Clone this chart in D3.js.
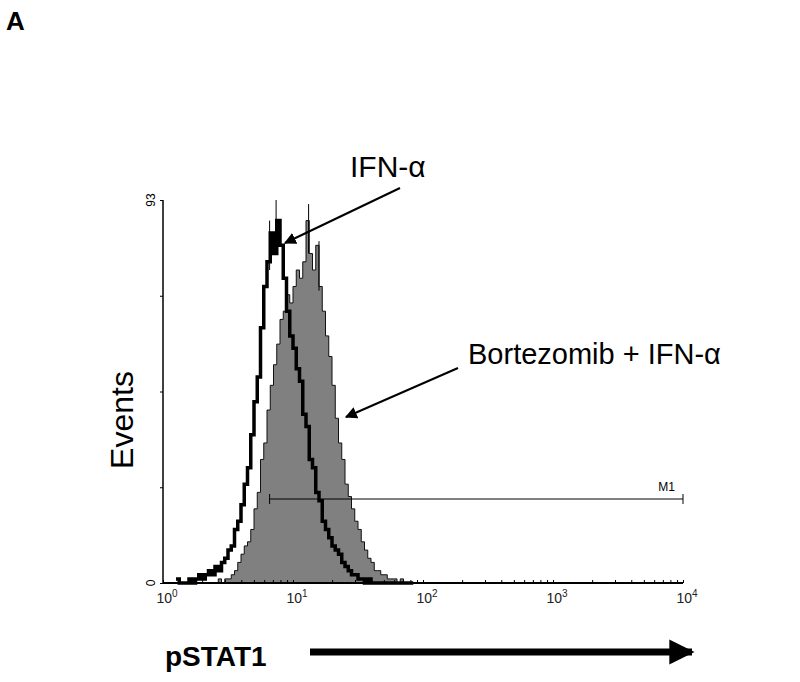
<!DOCTYPE html>
<html><head><meta charset="utf-8">
<script src="https://cdn.jsdelivr.net/npm/d3@7"></script>
<style>body{margin:0;background:#fff}text{font-family:"Liberation Sans",Arial,sans-serif}</style>
</head><body>
<svg id="c" width="800" height="682"></svg>
<script>
// log10 bin start for both series, step 0.025 decades
var binStart = 0.1, binStep = 0.025;
var ifnCounts = [1,0,0,0,1,0,1,2,1,2,3,2,4,3,5,6,8,9,13,15,19,24,28,36,44,50,62,72,78,85,80,88,82,74,66,60,
  57,52,49,41,38,30,28,22,20,15,13,11,9,8,7,5,4,3,2,2,1,1,0,1,0,0,0,0,0,0,0,0,0,0,0,0,0];
var bortCounts = [0,0,0,0,0,0,0,0,0,0,0,0,0,1,0,1,1,2,3,5,7,9,10,13,18,22,30,34,42,48,53,58,64,66,70,68,
  72,76,74,78,88,80,76,82,72,66,60,55,48,40,34,30,24,21,18,15,13,10,8,6,5,3,3,2,2,1,1,1,0,1,0,0,0];
var xTicks = [1, 10, 100, 1000, 10000];
var yTicks = [0, 93];
var spikes = [[0.87, 93], [1.12, 92], [1.2, 83], [0.82, 88]];

var svg = d3.select("#c");
var x = d3.scaleLog().domain([1, 10000]).range([163, 683]);
var y = d3.scaleLinear().domain([0, 93]).range([583, 200]);

function pts(counts) {
  var p = counts.map(function(c, i) { return [Math.pow(10, binStart + i * binStep), c]; });
  p.push([Math.pow(10, binStart + counts.length * binStep), 0]);
  return p;
}

var area = d3.area().x(function(d) { return x(d[0]); }).y0(y(0)).y1(function(d) { return y(d[1]); }).curve(d3.curveStepAfter);
var line = d3.line().x(function(d) { return x(d[0]); }).y(function(d) { return y(d[1]); }).curve(d3.curveStepAfter);

svg.append("path").attr("d", area(pts(bortCounts))).attr("fill", "#808080").attr("stroke", "#111").attr("stroke-width", 1);
svg.append("path").attr("d", line(pts(ifnCounts))).attr("fill", "none").attr("stroke", "#000").attr("stroke-width", 3.5);
svg.selectAll(".spk").data(spikes).enter().append("line")
  .attr("x1", function(d) { return x(Math.pow(10, d[0])); }).attr("x2", function(d) { return x(Math.pow(10, d[0])); })
  .attr("y1", function(d) { return y(d[1] - 12); }).attr("y2", function(d) { return y(d[1]); })
  .attr("stroke", "#000").attr("stroke-width", 1);

// axes
var minor = d3.range(1, 5).reduce(function(a, d) {
  for (var k = 1; k < 10; k++) a.push(k * Math.pow(10, d - 1)); return a; }, []).concat([10000]);
var gx = svg.append("g").attr("transform", "translate(0,583)")
  .call(d3.axisTop(x).tickValues(minor).tickSize(3).tickFormat(""));
gx.selectAll(".tick line").attr("stroke", "#000");
gx.select(".domain").attr("stroke-width", 2).attr("d", "M163,0H683");
svg.selectAll(".xl").data(xTicks).enter().append("text")
  .attr("x", function(d) { return x(d) + 4; }).attr("y", 603).attr("text-anchor", "middle")
  .attr("font-size", 14).attr("fill", "#222")
  .each(function(d) {
    var t = d3.select(this);
    t.append("tspan").text("10");
    t.append("tspan").attr("font-size", 10).attr("dy", -6).text(Math.round(Math.log10(d)));
  });

var gy = svg.append("g").attr("transform", "translate(163,0)")
  .call(d3.axisLeft(y).tickValues([0, 23.25, 46.5, 69.75, 93]).tickSize(3).tickFormat(""));
gy.select(".domain").attr("stroke-width", 1.5).attr("d", "M0,583V200");
svg.selectAll(".yl").data(yTicks).enter().append("text")
  .attr("transform", function(d) { return "translate(155," + y(d) + ") rotate(-90)"; })
  .attr("text-anchor", "middle").attr("font-size", 12).text(function(d) { return d; });

// marker M1
var m1y = 499;
svg.append("line").attr("x1", x(Math.pow(10, 0.82))).attr("x2", x(10000)).attr("y1", m1y).attr("y2", m1y).attr("stroke", "#000");
[0.82, 4].forEach(function(v) {
  svg.append("line").attr("x1", x(Math.pow(10, v))).attr("x2", x(Math.pow(10, v))).attr("y1", m1y - 5).attr("y2", m1y + 5).attr("stroke", "#000");
});
svg.append("text").attr("x", 675).attr("y", 491).attr("text-anchor", "end").attr("font-size", 12).text("M1");

// annotations
var defs = svg.append("defs");
defs.append("marker").attr("id", "ah").attr("viewBox", "0 0 10 10").attr("refX", 9).attr("refY", 5)
  .attr("markerWidth", 6).attr("markerHeight", 6).attr("orient", "auto")
  .append("path").attr("d", "M0,0L10,5L0,10z").attr("fill", "#000");
defs.append("marker").attr("id", "ah2").attr("viewBox", "0 0 10 10").attr("refX", 9).attr("refY", 5)
  .attr("markerWidth", 3.6).attr("markerHeight", 3.6).attr("orient", "auto")
  .append("path").attr("d", "M0,0L10,5L0,10z").attr("fill", "#000");

svg.append("text").attr("x", 350).attr("y", 177).attr("font-size", 30).text("IFN-α");
svg.append("line").attr("x1", 400).attr("y1", 188).attr("x2", 285).attr("y2", 243)
  .attr("stroke", "#000").attr("stroke-width", 2).attr("marker-end", "url(#ah)");
svg.append("text").attr("x", 468).attr("y", 364).attr("font-size", 29).text("Bortezomib + IFN-α");
svg.append("line").attr("x1", 458).attr("y1", 368).attr("x2", 346).attr("y2", 417)
  .attr("stroke", "#000").attr("stroke-width", 2).attr("marker-end", "url(#ah)");

svg.append("text").attr("transform", "translate(133,420) rotate(-90)").attr("text-anchor", "middle")
  .attr("font-size", 32).text("Events");
svg.append("text").attr("x", 6).attr("y", 30).attr("font-size", 26).attr("font-weight", "bold").text("A");
svg.append("text").attr("x", 165).attr("y", 666).attr("font-size", 28).attr("font-weight", "bold").text("pSTAT1");
svg.append("line").attr("x1", 310).attr("y1", 652).attr("x2", 692).attr("y2", 652)
  .attr("stroke", "#000").attr("stroke-width", 7).attr("marker-end", "url(#ah2)");
</script>
</body></html>
